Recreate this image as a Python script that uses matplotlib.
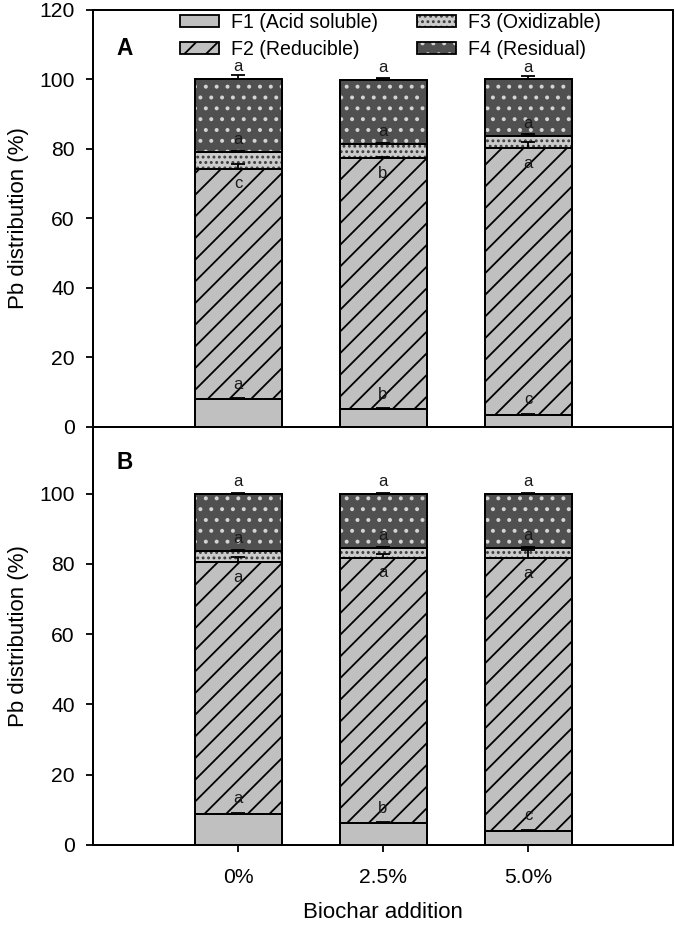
import numpy as np
import matplotlib
matplotlib.use('Agg')
import matplotlib.pyplot as plt
from matplotlib.patches import Patch
from matplotlib.legend_handler import HandlerTuple

plt.rcParams['font.family'] = ['Liberation Sans', 'DejaVu Sans']
plt.rcParams['hatch.linewidth'] = 1.0

categories = ['0%', '2.5%', '5.0%']
fractions = ['F1 (Acid soluble)', 'F2 (Reducible)', 'F3 (Oxidizable)', 'F4 (Residual)']

# panel A
a_f1 = [8.0, 5.1, 3.5]
a_f2 = [66.3, 72.2, 76.7]
a_f3 = [4.7, 4.1, 3.5]
a_f4 = [21.0, 18.6, 16.3]
a_err = [[0.3, 0.4, 0.2], [1.5, 0.5, 1.9], [0.5, 0.4, 0.6], [1.4, 0.3, 1.0]]
a_letters = [['a', 'b', 'c'], ['c', 'b', 'a'], ['a', 'a', 'a'], ['a', 'a', 'a']]

# panel B
b_f1 = [8.8, 6.2, 4.1]
b_f2 = [71.7, 75.6, 77.5]
b_f3 = [3.1, 2.7, 3.0]
b_f4 = [16.4, 15.5, 15.4]
b_err = [[0.4, 0.3, 0.2], [1.6, 1.0, 2.5], [0.3, 0.3, 0.3], [0.3, 0.3, 0.3]]
b_letters = [['a', 'b', 'c'], ['a', 'a', 'a'], ['a', 'a', 'a'], ['a', 'a', 'a']]

# fill, hatch, hatch colour per fraction
styles = [
    ('#c0c0c0', None, 'black'),
    ('#c0c0c0', '//', 'black'),
    ('#cbcbcb', '....', '#3a3a3a'),
    ('#505050', '..', '#d4d4d4'),
]
letter_offset = [4.3, -4.3, 3.6, 3.4]

DPI = 130


def draw_panel(ax, segs, errs, letters, tag):
    x = np.arange(len(categories))
    bottom = np.zeros(len(categories))
    for seg, err, lab, (fc, hatch, hc), off in zip(segs, errs, letters, styles, letter_offset):
        seg = np.array(seg)
        top = bottom + seg
        ax.bar(x, seg, 0.6, bottom=bottom, color=fc, hatch=hatch,
               edgecolor=hc if hatch else fc, linewidth=0, zorder=2)
        ax.bar(x, seg, 0.6, bottom=bottom, fill=False, edgecolor='black',
               linewidth=1.1, zorder=3)
        ax.errorbar(x, top, yerr=[np.zeros(len(x)), err], fmt='none',
                    ecolor='black', elinewidth=1.0, capsize=3.8, capthick=1.0, zorder=4)
        for xi, ti, ei, s in zip(x, top, err, lab):
            y = ti + off if off < 0 else ti + max(off, ei + 2.2)
            ax.text(xi, y, s, ha='center', va='center', fontsize=9.2,
                    color='#1a1a1a', zorder=5)
        bottom = top
    ax.set_xlim(-1, 3)
    ax.set_ylabel('Pb distribution (%)', fontsize=12.3, labelpad=6)
    ax.tick_params(axis='y', direction='out', length=4, width=1, labelsize=11.7, pad=6)
    ax.text(-0.78, 109, tag, fontsize=12.5, fontweight='bold', ha='center', va='center')
    for s in ax.spines.values():
        s.set_linewidth(1.1)


fig = plt.figure(figsize=(675 / DPI, 925 / DPI), dpi=DPI)
ax_a = fig.add_axes([93 / 675, 1 - 427 / 925, 580 / 675, 417 / 925])
ax_b = fig.add_axes([93 / 675, 1 - 845 / 925, 580 / 675, 418 / 925])

draw_panel(ax_a, [a_f1, a_f2, a_f3, a_f4], a_err, a_letters, 'A')
draw_panel(ax_b, [b_f1, b_f2, b_f3, b_f4], b_err, b_letters, 'B')

ax_a.set_ylim(0, 120)
ax_a.set_yticks(np.arange(0, 121, 20))
ax_a.set_xticks([])
ax_b.set_ylim(0, 119)
ax_b.set_yticks(np.arange(0, 101, 20))
ax_b.set_xticks(np.arange(len(categories)))
ax_b.set_xticklabels(categories)
ax_b.tick_params(axis='x', direction='out', length=4, width=1, labelsize=11.7, pad=9)
ax_b.set_xlabel('Biochar addition', fontsize=12.3, labelpad=8)

handles = []
for fc, hatch, hc in styles:
    fill = Patch(facecolor=fc, hatch=hatch, edgecolor=hc if hatch else fc, linewidth=0)
    edge = Patch(fill=False, edgecolor='black', linewidth=1.0)
    handles.append((fill, edge))
ax_a.legend(handles, fractions, ncol=2, frameon=False, fontsize=10.8,
            handler_map={tuple: HandlerTuple(ndivide=1)},
            handlelength=2.0, handleheight=0.55, handletextpad=0.6,
            columnspacing=2.0, labelspacing=0.42,
            loc='upper left', bbox_to_anchor=(0.12, 1.036))

fig.savefig('out.png', dpi=DPI)
